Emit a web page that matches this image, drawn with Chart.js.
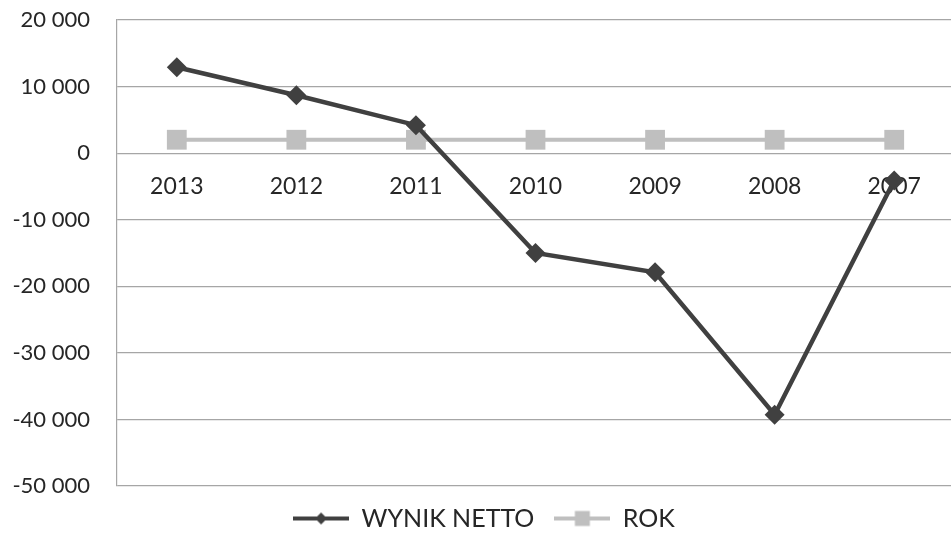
<!DOCTYPE html>
<html>
<head>
<meta charset="utf-8">
<script src="https://cdn.jsdelivr.net/npm/chart.js@4.4.1/dist/chart.umd.min.js"></script>
<style>
    html, body { margin: 0; padding: 0; overflow: hidden; background: #fff; }
    #wrap { width: 968px; height: 555px; position: relative; }
</style>
</head>
<body>
<div id="wrap"><canvas id="chart"></canvas></div>
<script>
// Chart data
const years = ["2013", "2012", "2011", "2010", "2009", "2008", "2007"];
const wynikNetto = [12900, 8700, 4200, -15000, -17900, -39300, -4100];
const rok = [2013, 2012, 2011, 2010, 2009, 2008, 2007];
const yRange = [-50000, 20000, 10000]; // min, max, step

const dark = "#404040";
const light = "#bfbfbf";
const textColor = "#262626";
const font = "Lato";

// small canvas used as legend marker (line + point)
function legendMarker(color, shape) {
    const c = document.createElement("canvas");
    c.width = 56;
    c.height = 20;
    const ctx = c.getContext("2d");
    ctx.strokeStyle = color;
    ctx.fillStyle = color;
    ctx.lineWidth = 4;
    ctx.beginPath();
    ctx.moveTo(0, 10);
    ctx.lineTo(56, 10);
    ctx.stroke();
    ctx.beginPath();
    if (shape === "diamond") {
        ctx.moveTo(22, 10);
        ctx.lineTo(28, 4);
        ctx.lineTo(34, 10);
        ctx.lineTo(28, 16);
    } else {
        ctx.rect(20.5, 2.5, 15, 15);
    }
    ctx.closePath();
    ctx.fill();
    return c;
}

const markers = [legendMarker(dark, "diamond"), legendMarker(light, "square")];

function formatNumber(v) {
    const s = Math.abs(v).toString().replace(/\B(?=(\d{3})+(?!\d))/g, " ");
    return (v < 0 ? "-" : "") + s;
}

const ctx = document.getElementById("chart").getContext("2d");
new Chart(ctx, {
    type: "line",
    data: {
        labels: years,
        datasets: [
            {
                label: "WYNIK NETTO",
                data: wynikNetto,
                borderColor: dark,
                backgroundColor: dark,
                borderWidth: 4.5,
                pointStyle: "rectRot",
                pointRadius: 10,
                pointBorderWidth: 0,
                tension: 0,
            },
            {
                label: "ROK",
                data: rok,
                borderColor: light,
                backgroundColor: light,
                borderWidth: 4,
                pointStyle: "rect",
                pointRadius: 14,
                pointBorderWidth: 0,
                tension: 0,
            },
        ],
    },
    options: {
        responsive: true,
        maintainAspectRatio: false,
        animation: false,
        layout: {
            padding: { top: 20, left: 0, right: 0, bottom: 14 },
        },
        plugins: {
            tooltip: { enabled: false },
            legend: {
                position: "bottom",
                labels: {
                    usePointStyle: true,
                    pointStyleWidth: 56,
                    boxHeight: 20,
                    padding: 20,
                    color: textColor,
                    font: { family: font, size: 25 },
                    generateLabels: function (chart) {
                        const items = Chart.defaults.plugins.legend.labels.generateLabels(chart);
                        items.forEach((item, i) => {
                            item.pointStyle = markers[i];
                        });
                        return items;
                    },
                },
            },
        },
        scales: {
            x: {
                position: { y: 0 },
                offset: true,
                grid: {
                    color: "transparent",
                    drawOnChartArea: false,
                    tickColor: "transparent",
                    tickLength: 20,
                },
                border: { display: false },
                ticks: {
                    color: textColor,
                    padding: 0,
                    maxRotation: 0,
                    font: { family: font, size: 23 },
                },
            },
            y: {
                min: yRange[0],
                max: yRange[1],
                afterFit: function (scale) {
                    scale.width = 117;
                },
                grid: {
                    color: "#a6a6a6",
                    lineWidth: 1.2,
                    tickColor: "transparent",
                    tickLength: 27,
                },
                border: { color: "#a6a6a6", width: 1.2 },
                ticks: {
                    stepSize: yRange[2],
                    padding: 0,
                    color: textColor,
                    font: { family: font, size: 22 },
                    callback: (v) => formatNumber(v),
                },
            },
        },
    },
});
</script>
</body>
</html>
